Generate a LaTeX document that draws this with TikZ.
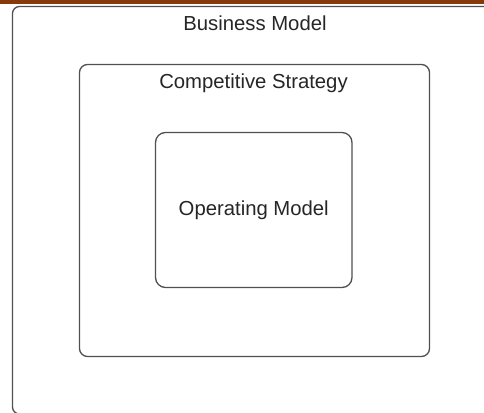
\documentclass[tikz,border=0pt]{standalone}
\usepackage{fontspec}
\setmainfont{Liberation Sans}
\usepackage{tikz}
\usepackage{xcolor}
\definecolor{bar-brown}{RGB}{134,58,12}
\definecolor{edge-gray}{RGB}{80,80,80}
\tikzset{
    layer-box/.style = {draw=edge-gray, fill=white, line width=1.3pt, rectangle, inner sep=0pt},
    layer-title/.style = {font=\fontsize{20.3}{23}\selectfont, text=black!85, anchor=base, inner sep=0pt},
}

\begin{document}
\begin{tikzpicture}[x=1pt, y=-1pt]
\useasboundingbox (0,0) rectangle (484,412);
\clip (0,0) rectangle (484,412);
\fill[white] (0,0) rectangle (484,412);
\fill[bar-brown] (0,0) rectangle (484,4.3);

\node [layer-box, rounded corners=7pt, minimum width=507.5pt, minimum height=407.5pt] (business) at (266.25,210.25) {};
\node [layer-title] at ([yshift=-25pt]business.north -| 255,0) {Business Model};

\node [layer-box, rounded corners=8pt, minimum width=350pt, minimum height=292pt] (strategy) at (254.5,210.5) {};
\node [layer-title] at ([yshift=-24.8pt]strategy.north -| 253.5,0) {Competitive Strategy};

\node [layer-box, rounded corners=10pt, minimum width=196.5pt, minimum height=155pt] (operating) at (253.75,210) {};
\node [layer-title, anchor=center] at (operating.center) {Operating Model};
\end{tikzpicture}
\end{document}
